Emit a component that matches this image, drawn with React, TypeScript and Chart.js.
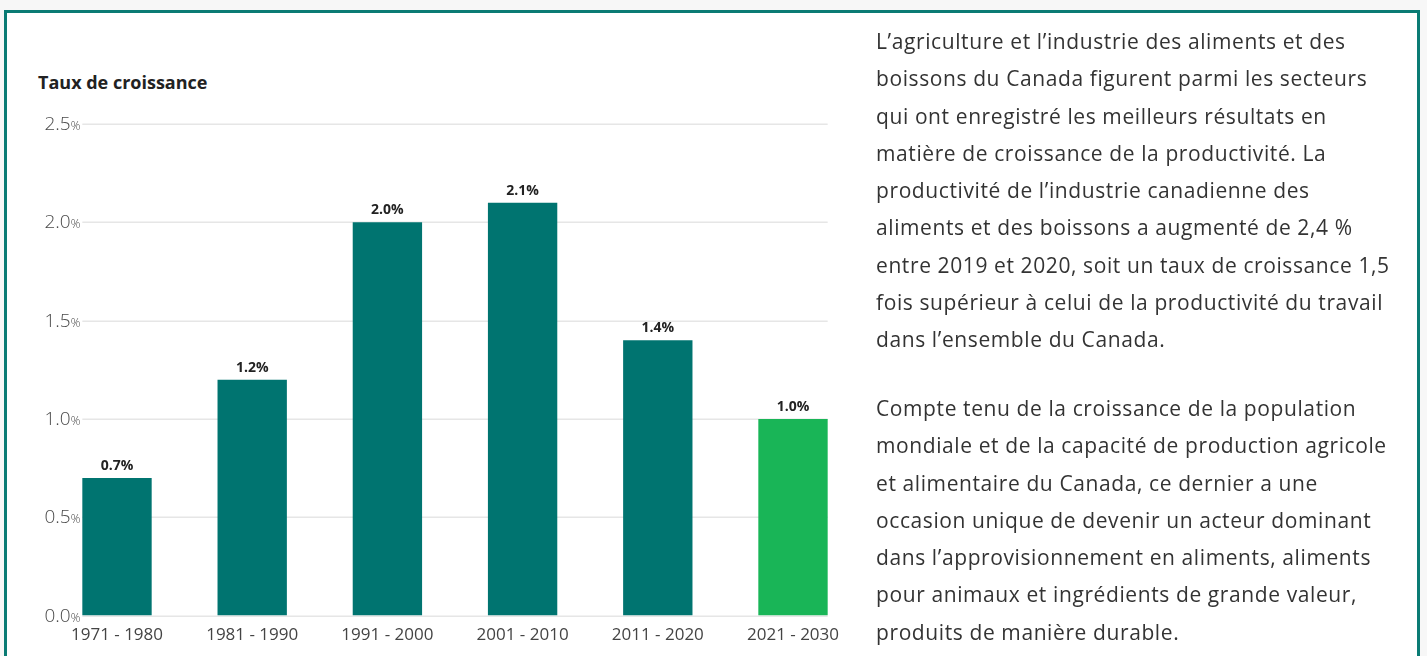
import React, { useEffect, useRef } from "react";
import { Chart, registerables } from "chart.js";

Chart.register(...registerables);

const categories = ["1971 - 1980", "1981 - 1990", "1991 - 2000", "2001 - 2010", "2011 - 2020", "2021 - 2030"];
const growthValues = [0.7, 1.2, 2.0, 2.1, 1.4, 1.0];
const valueLabels = ["0.7%", "1.2%", "2.0%", "2.1%", "1.4%", "1.0%"];
const barColors = ["#007470", "#007470", "#007470", "#007470", "#007470", "#19b557"];
const yTicks = [0, 0.5, 1.0, 1.5, 2.0, 2.5];
const yTickLabels = ["0.0", "0.5", "1.0", "1.5", "2.0", "2.5"];

const paragraph1 = [
  "L’agriculture et l’industrie des aliments et des",
  "boissons du Canada figurent parmi les secteurs",
  "qui ont enregistré les meilleurs résultats en",
  "matière de croissance de la productivité. La",
  "productivité de l’industrie canadienne des",
  "aliments et des boissons a augmenté de 2,4 %",
  "entre 2019 et 2020, soit un taux de croissance 1,5",
  "fois supérieur à celui de la productivité du travail",
  "dans l’ensemble du Canada.",
];
const paragraph2 = [
  "Compte tenu de la croissance de la population",
  "mondiale et de la capacité de production agricole",
  "et alimentaire du Canada, ce dernier a une",
  "occasion unique de devenir un acteur dominant",
  "dans l’approvisionnement en aliments, aliments",
  "pour animaux et ingrédients de grande valeur,",
  "produits de manière durable.",
];

const FONT = "'Open Sans', Lato, sans-serif";

const customDraw = {
  id: "customDraw",
  beforeDatasetsDraw(chart: any) {
    const ctx = chart.ctx;
    const meta = chart.getDatasetMeta(0);
    const first = meta.data[0];
    const last = meta.data[meta.data.length - 1];
    const x0 = first.x - first.width / 2;
    const x1 = last.x + last.width / 2;
    const y = chart.scales.y;
    ctx.save();
    ctx.strokeStyle = "#e6e6e6";
    ctx.lineWidth = 1.5;
    yTicks.forEach((v, i) => {
      const py = Math.round(y.getPixelForValue(v)) + 0.25;
      ctx.beginPath();
      ctx.moveTo(x0, py);
      ctx.lineTo(x1, py);
      ctx.stroke();
      ctx.textBaseline = "middle";
      ctx.textAlign = "right";
      ctx.fillStyle = "#4a4a4a";
      ctx.font = `300 12px ${FONT}`;
      const pctW = ctx.measureText("%").width;
      ctx.fillText("%", x0 - 2, py + 2);
      ctx.font = `300 19px ${FONT}`;
      ctx.fillText(yTickLabels[i], x0 - 2 - pctW, py);
    });
    ctx.restore();
  },
  afterDatasetsDraw(chart: any) {
    const ctx = chart.ctx;
    const meta = chart.getDatasetMeta(0);
    ctx.save();
    ctx.font = `bold 14px ${FONT}`;
    ctx.fillStyle = "#222";
    ctx.textAlign = "center";
    ctx.textBaseline = "middle";
    meta.data.forEach((bar: any, i: number) => {
      ctx.fillText(valueLabels[i], bar.x, bar.y - 12);
    });
    ctx.restore();
  },
};

export default function App() {
  const canvasRef = useRef<HTMLCanvasElement | null>(null);

  useEffect(() => {
    document.body.style.margin = "0";
    const chart = new Chart(canvasRef.current as HTMLCanvasElement, {
      type: "bar",
      data: {
        labels: categories,
        datasets: [
          {
            data: growthValues,
            backgroundColor: barColors,
            borderWidth: 0,
            barPercentage: 0.513,
            categoryPercentage: 1,
          },
        ],
      },
      options: {
        animation: false,
        responsive: false,
        maintainAspectRatio: false,
        layout: { padding: { left: 49.4, right: 19.4, top: 124, bottom: 2 } },
        plugins: {
          legend: { display: false },
          title: { display: false },
          tooltip: { enabled: false },
        },
        scales: {
          x: {
            grid: { display: false, drawTicks: false },
            border: { display: false },
            ticks: {
              color: "#444",
              font: { family: FONT, size: 17, weight: 400, lineHeight: 1.2 },
              padding: 9,
              maxRotation: 0,
              autoSkip: false,
            },
          },
          y: {
            display: false,
            min: 0,
            max: 2.5,
          },
        },
      },
      plugins: [customDraw],
    });
    return () => chart.destroy();
  }, []);

  const lineStyle: React.CSSProperties = { whiteSpace: "nowrap", height: "37.3px" };

  return (
    <div style={{ position: "absolute", left: 0, top: 0, width: 1427, height: 656, background: "#f7f7f7", overflow: "hidden" }}>
      <div
        style={{
          position: "absolute",
          left: 4,
          top: 10,
          width: 1410,
          height: 700,
          border: "3px solid #0a7b74",
          background: "#ffffff",
        }}
      />
      <div
        style={{
          position: "absolute",
          left: 38,
          top: 71,
          fontFamily: FONT,
          fontWeight: 700,
          fontSize: 18,
          color: "#222",
          lineHeight: "22px",
        }}
      >
        Taux de croissance
      </div>
      <canvas ref={canvasRef} width={880} height={656} style={{ position: "absolute", left: 0, top: 0, width: 880, height: 656 }} />
      <div
        style={{
          position: "absolute",
          left: 876,
          top: 23,
          fontFamily: FONT,
          fontSize: 21,
          letterSpacing: "0.6px",
          color: "#333",
          lineHeight: "37.3px",
        }}
      >
        {paragraph1.map((l, i) => (
          <div key={"a" + i} style={lineStyle}>{l}</div>
        ))}
        <div style={{ height: 31.3 }} />
        {paragraph2.map((l, i) => (
          <div key={"b" + i} style={lineStyle}>{l}</div>
        ))}
      </div>
    </div>
  );
}
